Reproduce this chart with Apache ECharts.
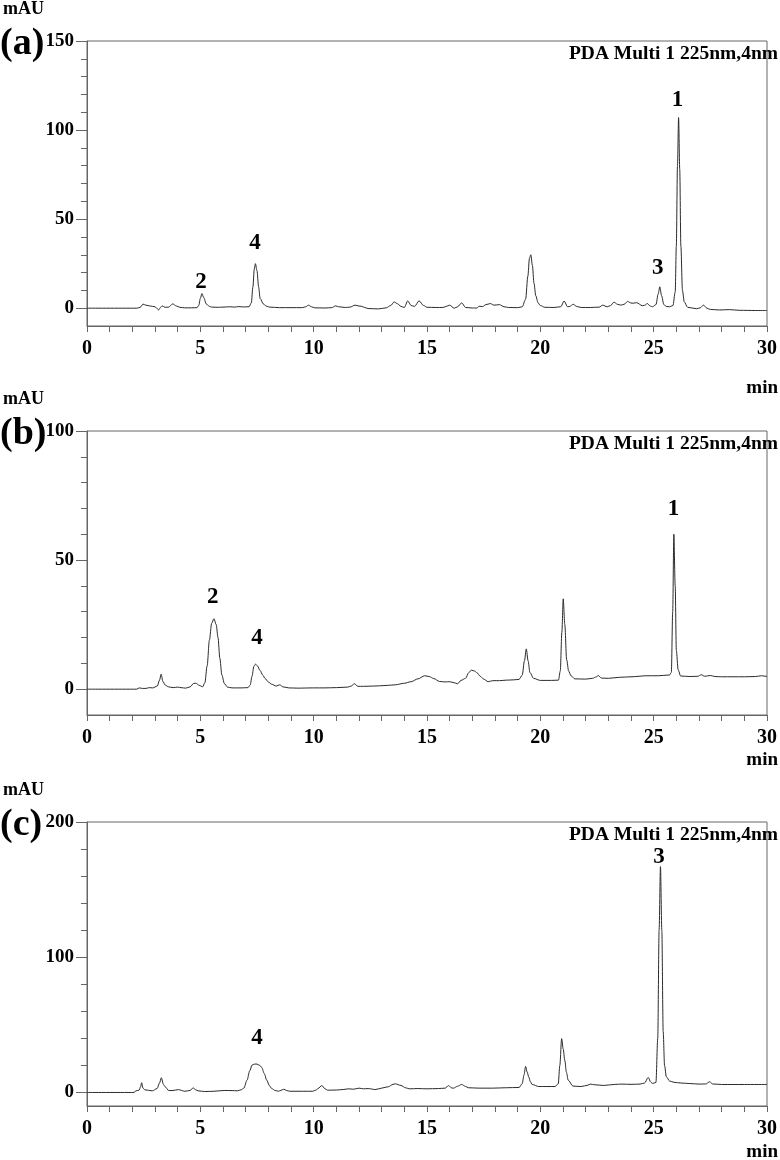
<!DOCTYPE html>
<html>
<head>
<meta charset="utf-8">
<script src="https://cdn.jsdelivr.net/npm/echarts@6/dist/echarts.min.js"></script>
<style>
  html, body { margin: 0; padding: 0; background: #fff; }
  #main { width: 780px; height: 1160px; }
</style>
</head>
<body>
<div id="main"></div>
<script>
// ---- data ----
var timeA = [0,2.2,2.35,2.47,2.6,2.8,3.0,3.1,3.16,3.25,3.31,3.45,3.6,3.78,3.95,4.1,4.3,4.6,4.85,4.93,5.0,5.07,5.15,5.26,5.4,5.5,5.8,6.0,6.3,6.5,6.7,6.9,7.15,7.25,7.32,7.38,7.43,7.5,7.57,7.64,7.78,7.9,8.05,8.5,9.0,9.5,9.65,9.77,9.9,10.05,10.5,10.8,10.97,11.1,11.4,11.6,11.83,12.0,12.1,12.25,12.4,12.85,13.2,13.4,13.55,13.7,13.85,14.0,14.15,14.3,14.45,14.65,14.85,15.0,15.4,15.7,15.85,16.0,16.2,16.35,16.53,16.7,17.0,17.2,17.3,17.45,17.6,17.8,17.95,18.2,18.4,18.6,19.0,19.2,19.35,19.45,19.52,19.58,19.65,19.72,19.8,19.9,20.0,20.2,20.6,20.9,21.05,21.2,21.3,21.45,21.6,21.8,22.2,22.6,22.75,22.95,23.1,23.25,23.4,23.55,23.7,23.85,24.0,24.1,24.25,24.5,24.6,24.72,24.85,24.95,25.1,25.2,25.27,25.35,25.45,25.55,25.7,25.85,25.95,26.0,26.05,26.1,26.15,26.2,26.27,26.35,26.5,26.9,27.05,27.2,27.35,27.5,27.9,28.35,28.8,29.5,30];
var mauA  = [0,0,0.5,2.3,1.7,1.2,0.8,-0.3,-1.0,0.5,1.3,0.5,0.6,2.4,1.2,0.5,0.2,0.2,0.3,1.5,5.5,8.2,6,2.4,1.0,0.6,0.5,0.6,0.8,0.6,0.9,0.7,0.8,3,12,22,25,21,12,5.4,2.4,1.2,0.6,0.3,0.3,0.3,0.8,1.7,0.8,0.2,0.1,0.3,1.3,0.8,0.4,0.6,1.7,1.2,1.1,0.4,-0.2,-0.4,0.2,1.5,3.5,2.5,1.0,0.4,4.1,1.5,1.0,4.1,1.5,0.5,0.4,0.4,1.0,1.7,0.0,0.8,3.0,0.4,0.1,0.1,1.1,0.9,2.0,2.6,1.7,2.0,0.8,0.4,0.3,0.8,5,18,28,30,24,14,7,3,1.5,0.5,0.4,0.8,4,0.8,1.0,2.2,1.0,0.4,0.4,0.6,1.7,0.8,1.5,3.4,2.2,1.7,2.2,3.8,2.9,2.8,3.1,1.4,1.6,2.6,1.2,0.8,2,8,12,7,2,1.0,0.8,1.5,9,35,80,107,78,35,10,3.5,0.5,-0.3,0.2,1.7,0.0,-0.7,-1.0,-0.8,-1.2,-1.3,-1.3];

var timeB = [0,2.2,2.3,2.45,2.6,2.75,2.9,3.1,3.2,3.27,3.35,3.45,3.6,3.8,4.0,4.15,4.35,4.55,4.7,4.8,4.95,5.1,5.2,5.3,5.4,5.5,5.6,5.7,5.78,5.86,5.95,6.06,6.2,6.4,6.8,7.1,7.2,7.28,7.36,7.44,7.52,7.64,7.75,7.86,8.0,8.15,8.35,8.5,8.65,8.9,9.3,10,10.5,11,11.5,11.65,11.8,11.95,12.2,12.6,12.9,13.3,13.6,14.0,14.3,14.6,14.9,15.1,15.3,15.55,15.8,16.0,16.2,16.35,16.5,16.7,16.85,16.96,17.1,17.2,17.35,17.5,17.7,17.9,18.2,18.5,18.8,19.06,19.2,19.3,19.38,19.46,19.54,19.7,20.0,20.5,20.8,20.88,20.95,21.01,21.08,21.16,21.25,21.35,21.52,22.0,22.3,22.48,22.55,22.7,23.0,23.5,24.0,24.7,25.2,25.7,25.78,25.84,25.89,25.95,26.0,26.08,26.19,26.6,26.95,27.1,27.25,27.5,27.7,28.0,28.5,29.0,29.5,29.75,30];
var mauB  = [0,0,0.5,0.3,0.3,0.6,0.5,1.2,3.5,5.8,3.0,1.6,0.9,0.6,0.8,0.6,0.4,0.9,2.2,2.3,1.5,0.9,2.5,9,19,25.5,27.3,25,20,12,5.5,2.2,0.8,0.5,0.5,0.6,1.6,5,8.8,9.7,9,7.2,5.5,4.1,2.8,1.9,1.2,1.7,0.9,0.5,0.4,0.5,0.5,0.6,0.8,1.2,2.1,1.1,1.1,1.2,1.3,1.5,1.7,2.3,2.9,4.0,5.2,4.9,4.1,3.0,2.8,2.9,2.5,2.1,3.4,4.2,6.5,7.4,7.0,6.4,5.0,3.9,2.9,3.3,3.3,3.5,3.6,3.8,5.4,11,15.6,11,6.5,4.2,3.4,3.4,3.5,7,22,35,25,11.5,7,5.2,4.0,3.9,4.2,4.8,5.3,4.3,4.2,4.6,4.8,5.2,5.2,5.5,6.5,30,60,40,15,7.5,5.1,4.9,5.0,5.6,5.0,5.3,4.9,4.8,4.8,4.8,4.9,5.2,4.9];

var timeC = [0,2.08,2.15,2.3,2.36,2.41,2.47,2.55,2.88,3.09,3.2,3.28,3.37,3.45,3.6,3.75,4.03,4.32,4.55,4.68,4.8,4.9,5.19,5.6,6.05,6.4,6.63,6.8,6.92,7.06,7.18,7.28,7.4,7.5,7.62,7.71,7.82,7.93,8.05,8.15,8.3,8.44,8.55,8.68,8.8,8.94,9.5,9.96,10.1,10.2,10.36,10.5,10.61,11.0,11.3,11.55,11.75,12.0,12.2,12.4,12.55,12.7,13.0,13.3,13.5,13.6,13.85,14.05,14.22,14.6,15.0,15.5,15.8,15.95,16.08,16.17,16.35,16.53,16.7,16.82,17.3,17.9,18.5,19.06,19.2,19.28,19.35,19.42,19.49,19.56,19.64,19.93,20.65,20.79,20.86,20.94,21.01,21.08,21.15,21.23,21.44,21.8,22.1,22.2,22.4,22.8,23.3,23.6,24.0,24.4,24.6,24.76,24.88,24.95,25.1,25.18,25.24,25.3,25.36,25.42,25.48,25.56,25.7,25.9,26.2,26.6,27.0,27.3,27.47,27.6,28.0,29.0,30];
var mauC  = [0,0,1.2,1.7,4,7.2,3.2,2.0,1.2,2.9,7,10.9,6,4.2,1.5,1.4,2.1,0.9,1.5,3.4,2.0,1.2,0.7,0.9,1.5,1.4,1.2,2.0,3.2,9.1,16,20.2,21,21,20,18.5,14,9.1,5,2.9,1.5,0.9,1.5,2.4,1.5,0.9,0.9,0.9,1.8,3,5.1,2.8,1.7,1.8,2.2,2.7,2.4,3.2,2.7,2.9,2.6,2.1,3.2,4.3,6.0,6.4,5.2,3.5,2.7,2.9,2.7,2.9,3.2,5.1,3.4,3.2,4.6,5.9,4.5,3.5,3.2,3.2,3.5,3.7,6.5,13,19.3,15,11.4,8,5.9,4.4,4.4,6.4,20,39.8,32,23.7,15,9.1,4.7,4.4,5.4,6.2,5.7,5.2,6.0,6.2,6.0,6.2,7.0,11.1,7.5,6.7,7.4,40,120,167,120,45,20,11.6,8.5,7.5,7.0,6.6,6.2,6.3,7.9,6.3,5.9,5.9,5.9];

// peak numbers and where they sit (time, mAU)
var peakNamesA = ['2', '4', '3', '1'];
var peakTimeA  = [5.03, 7.41, 25.18, 26.05];
var peakPosA   = [14.6, 36.5, 22.5, 117];
var peakNamesB = ['2', '4', '1'];
var peakTimeB  = [5.55, 7.5, 25.88];
var peakPosB   = [35.7, 19.8, 69.8];
var peakNamesC = ['4', '3'];
var peakTimeC  = [7.5, 25.23];
var peakPosC   = [40, 174];

// axes
var xTicks  = [0,1,2,3,4,5,6,7,8,9,10,11,12,13,14,15,16,17,18,19,20,21,22,23,24,25,26,27,28,29,30];
var xLabels = [0,5,10,15,20,25,30];
var yTicksA  = [0,10,20,30,40,50,60,70,80,90,100,110,120,130,140,150];
var yLabelsA = [0,50,100,150];
var yTicksB  = [0,10,20,30,40,50,60,70,80,90,100];
var yLabelsB = [0,50,100];
var yTicksC  = [0,20,40,60,80,100,120,140,160,180,200];
var yLabelsC = [0,100,200];

var panels = [
    {tag: '(a)', time: timeA, mau: mauA, names: peakNamesA, pt: peakTimeA, pv: peakPosA, yMax: 150, ticks: yTicksA, labels: yLabelsA, top: 41, h: 285, minY: 390},
    {tag: '(b)', time: timeB, mau: mauB, names: peakNamesB, pt: peakTimeB, pv: peakPosB, yMax: 100, ticks: yTicksB, labels: yLabelsB, top: 431, h: 284, minY: 762},
    {tag: '(c)', time: timeC, mau: mauC, names: peakNamesC, pt: peakTimeC, pv: peakPosC, yMax: 200, ticks: yTicksC, labels: yLabelsC, top: 822, h: 284, minY: 1154}
];

var FONT = '"Liberation Serif", "Times New Roman", serif';
var axisColor = '#666';

var grid = [], xAxis = [], yAxis = [], series = [], graphic = [];

panels.forEach(function (p, i) {
    grid.push({left: 87, right: 1, top: p.top, height: p.h, show: true, borderColor: axisColor, borderWidth: 1});

    xAxis.push({
        type: 'value', gridIndex: i, min: 0, max: 30,
        axisLine: {show: true, onZero: false, lineStyle: {color: axisColor}},
        axisTick: {show: true, customValues: xTicks, length: 6, lineStyle: {color: axisColor}},
        axisLabel: {customValues: xLabels, color: '#000', fontFamily: FONT, fontWeight: 'bold', fontSize: 20, margin: 13},
        splitLine: {show: false}
    });

    // minor ticks
    yAxis.push({
        type: 'value', gridIndex: i, min: -10, max: p.yMax, position: 'left',
        axisLine: {show: true, onZero: false, lineStyle: {color: axisColor}},
        axisTick: {show: true, customValues: p.ticks, length: 6, lineStyle: {color: axisColor}},
        axisLabel: {show: false},
        splitLine: {show: false}
    });
    // labelled ticks
    yAxis.push({
        type: 'value', gridIndex: i, min: -10, max: p.yMax, position: 'left', offset: 0,
        axisLine: {show: false},
        axisTick: {show: true, customValues: p.labels, length: 11, lineStyle: {color: axisColor}},
        axisLabel: {customValues: p.labels, color: '#000', fontFamily: FONT, fontWeight: 'bold', fontSize: 19, margin: 13},
        splitLine: {show: false}
    });

    var trace = p.time.map(function (t, k) { return [t, p.mau[k]]; });
    series.push({
        type: 'line', xAxisIndex: i, yAxisIndex: i * 2, data: trace,
        showSymbol: false, smooth: 0.3, smoothMonotone: 'x',
        lineStyle: {color: '#2b2b2b', width: 1}, silent: true
    });

    var marks = p.pt.map(function (t, k) { return {value: [t, p.pv[k]], name: p.names[k]}; });
    series.push({
        type: 'scatter', xAxisIndex: i, yAxisIndex: i * 2, data: marks,
        symbolSize: 0, silent: true, itemStyle: {color: '#000', opacity: 1},
        label: {show: true, position: 'top', distance: 0, verticalAlign: 'middle', align: 'center',
            formatter: '{b}', color: '#000', opacity: 1,
            fontFamily: FONT, fontWeight: 'bold', fontSize: 23}
    });

    graphic.push({type: 'text', left: 3, top: p.top - 41, style: {text: 'mAU', font: 'bold 18px ' + FONT, fill: '#000'}});
    graphic.push({type: 'text', left: 0, top: p.top - 16, style: {text: p.tag, font: 'bold 38px ' + FONT, fill: '#000'}});
    graphic.push({type: 'text', right: 2, top: p.top + 3, style: {text: 'PDA Multi 1 225nm,4nm', font: 'bold 19.5px ' + FONT, fill: '#000'}});
    graphic.push({type: 'text', right: 2, top: p.minY - 11, style: {text: 'min', font: 'bold 19px ' + FONT, fill: '#000'}});
});

var myChart = echarts.init(document.getElementById('main'), null, {renderer: 'canvas'});
myChart.setOption({
    animation: false,
    backgroundColor: '#fff',
    grid: grid,
    xAxis: xAxis,
    yAxis: yAxis,
    series: series,
    graphic: graphic
});
</script>
</body>
</html>
